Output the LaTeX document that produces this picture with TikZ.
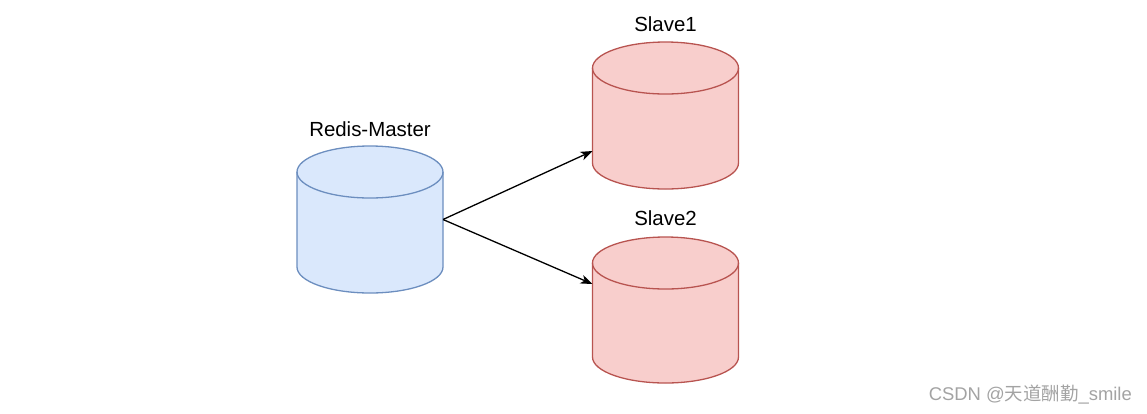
\documentclass[tikz,border=0pt]{standalone}
\usepackage{fontspec}
\setmainfont{Liberation Sans}
\newfontfamily\cjk{Noto Sans CJK SC}
\usetikzlibrary{calc,arrows.meta}
\definecolor{bfill}{HTML}{DAE8FC}
\definecolor{bstroke}{HTML}{6C8EBF}
\definecolor{rfill}{HTML}{F8CECC}
\definecolor{rstroke}{HTML}{B85450}
\definecolor{wm}{HTML}{A3A3A3}
\newcommand\mycyl[5]{%
  \filldraw[fill=#4,draw=#5,line width=1.3bp]
    (#1-73,#2+26) -- (#1-73,#3-26)
    arc[start angle=180,end angle=0,x radius=73,y radius=26]
    -- (#1+73,#2+26)
    arc[start angle=0,end angle=-180,x radius=73,y radius=26] -- cycle;
  \draw[draw=#5,line width=1.3bp] (#1-73,#2+26)
    arc[start angle=180,end angle=0,x radius=73,y radius=26];
}
\tikzset{
  box/.style={inner sep=0pt,outer sep=0pt,minimum width=146bp,minimum height=147bp},
  lbl/.style={font=\fontsize{20.5}{24}\selectfont,inner sep=0pt},
  arr/.style={-{Stealth[length=12bp,width=9bp,inset=3.5bp]},line width=1.3bp,black}
}
\begin{document}
\begin{tikzpicture}[x=1bp,y=-1bp]
\useasboundingbox (0,0) rectangle (1147,413);
\mycyl{370}{146}{293}{bfill}{bstroke}
\mycyl{665.5}{42}{189}{rfill}{rstroke}
\mycyl{665.5}{237}{383}{rfill}{rstroke}
\node[box] (m) at (370,219.5) {};
\node[box] (s1) at (665.5,115.5) {};
\node[box] (s2) at (665.5,310) {};
\node[lbl] (lm) at (370,129) {Redis-Master};
\node[lbl] (l1) at (665.5,24) {Slave1};
\node[lbl] (l2) at (665.5,218) {Slave2};
\draw[arr] (m.east) -- ($(s1.west)+(0,35.5)$);
\draw[arr] (m.east) -- ($(s2.west)+(0,-26)$);
\node[font=\fontsize{18.5}{22}\selectfont,text=wm,anchor=east,inner sep=0pt] (w) at (1132,395) {CSDN @{\cjk 天道酬勤}\_smile};
\end{tikzpicture}
\end{document}
